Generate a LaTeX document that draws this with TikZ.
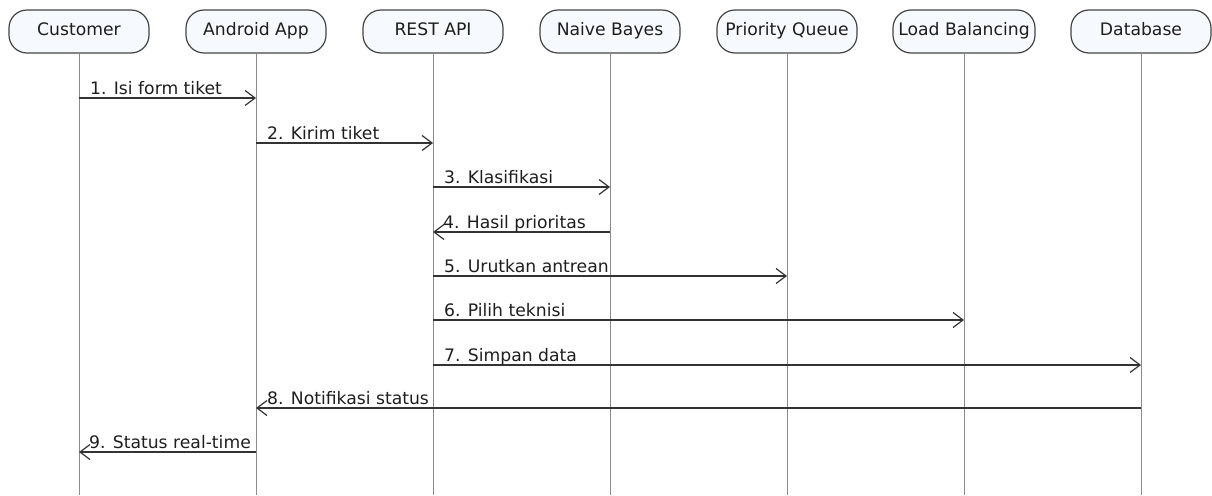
\documentclass[tikz,border=0pt]{standalone}
\usepackage{fontspec}
\setmainfont{DejaVu Sans}
\usetikzlibrary{arrows.meta}
\definecolor{boxfill}{HTML}{F6F9FD}
\definecolor{boxdraw}{HTML}{444444}
\definecolor{lifeclr}{HTML}{8A8A8A}
\definecolor{msgclr}{HTML}{333333}
\definecolor{txtclr}{HTML}{1E1E1E}
\tikzset{
  actor/.style={draw=boxdraw, fill=boxfill, line width=1.2pt, rounded corners=18pt,
    minimum width=140pt, minimum height=43pt, inner sep=0pt, text=txtclr,
    text height=12.5pt, text depth=3.5pt,
    font=\fontsize{17.2}{20}\selectfont},
  lifeline/.style={draw=lifeclr, line width=0.9pt},
  msg/.style={draw=msgclr, line width=1.3pt, -{Straight Barb[length=10pt,width=15pt,line width=1.2pt]}},
  msglabel/.style={text=txtclr, font=\fontsize{17.2}{20}\selectfont, anchor=base west, inner sep=0pt}
}
\begin{document}
\begin{tikzpicture}[x=1pt,y=-1pt]
\useasboundingbox (0,0) rectangle (1212,495);
% actors
\node[actor] (cu) at (79,31.5) {Customer};
\node[actor] (an) at (256,31.5) {Android App};
\node[actor] (re) at (433,31.5) {REST API};
\node[actor] (nb) at (610,31.5) {Naive Bayes};
\node[actor] (pq) at (787,31.5) {Priority Queue};
\node[actor, minimum width=142pt] (lb) at (964,31.5) {Load Balancing};
\node[actor] (db) at (1141,31.5) {Database};
% lifeline ends
\coordinate (cuE) at (79,495);
\coordinate (anE) at (256,495);
\coordinate (reE) at (433,495);
\coordinate (nbE) at (610,495);
\coordinate (pqE) at (787,495);
\coordinate (lbE) at (964,495);
\coordinate (dbE) at (1141,495);
\foreach \a in {cu,an,re,nb,pq,lb,db} \draw[lifeline] (\a.south) -- (\a E);
% messages
\newcommand{\msgto}[5]{% from, to, y, label x, label
  \draw[msg] (#1 |- 0,#3) -- (#2 |- 0,#3);
  \node[msglabel] at (#4,#3-4) {#5};
}
\msgto{cu}{an}{98}{90}{1. Isi form tiket}
\msgto{an}{re}{143}{267}{2. Kirim tiket}
\msgto{re}{nb}{187}{444}{3. Klasifikasi}
\msgto{nb}{re}{232}{443}{4. Hasil prioritas}
\msgto{re}{pq}{276}{444}{5. Urutkan antrean}
\msgto{re}{lb}{320}{444}{6. Pilih teknisi}
\msgto{re}{db}{365}{444}{7. Simpan data}
\msgto{db}{an}{408}{267}{8. Notifikasi status}
\msgto{an}{cu}{452}{89}{9. Status real-time}
\end{tikzpicture}
\end{document}
